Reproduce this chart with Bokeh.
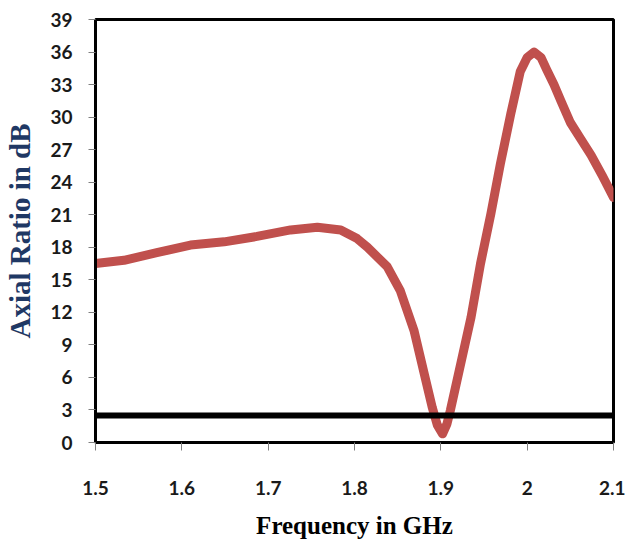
from bokeh.plotting import figure
from bokeh.models import FixedTicker, Span, Range1d
from bokeh.embed import file_html
from bokeh.resources import INLINE

# Data
freq_ghz = [1.500, 1.533, 1.571, 1.610, 1.649, 1.687, 1.726, 1.757, 1.784, 1.803,
            1.815, 1.838, 1.853, 1.869, 1.880, 1.890, 1.896, 1.902, 1.907, 1.911,
            1.923, 1.935, 1.946, 1.958, 1.969, 1.981, 1.992, 2.000, 2.008, 2.016,
            2.023, 2.031, 2.039, 2.050, 2.062, 2.074, 2.087, 2.100]
axial_ratio_db = [16.5, 16.8, 17.5, 18.2, 18.5, 19.0, 19.6, 19.85, 19.6, 18.8,
                  18.0, 16.2, 14.0, 10.3, 6.6, 3.25, 1.6, 0.8, 1.7, 2.95,
                  7.25, 11.55, 16.5, 21.1, 25.7, 30.3, 34.2, 35.5, 36.0, 35.5,
                  34.3, 33.0, 31.5, 29.5, 28.0, 26.5, 24.6, 22.6]
threshold_db = 2.5

x_ticks = [1.5, 1.6, 1.7, 1.8, 1.9, 2.0, 2.1]
x_tick_labels = ["1.5", "1.6", "1.7", "1.8", "1.9", "2", "2.1"]
y_ticks = [0, 3, 6, 9, 12, 15, 18, 21, 24, 27, 30, 33, 36, 39]

x_title = "Frequency in GHz"
y_title = "Axial Ratio in dB"

p = figure(width=625, height=545, output_backend="svg", toolbar_location=None,
           x_range=Range1d(1.5, 2.1), y_range=Range1d(0, 39),
           min_border_left=95, min_border_right=12, min_border_top=19,
           min_border_bottom=103)

p.background_fill_color = "white"
p.border_fill_color = "white"
p.outline_line_color = "black"
p.outline_line_width = 3
p.xgrid.visible = False
p.ygrid.visible = False

p.line(freq_ghz, axial_ratio_db, line_color="#C0504D", line_width=9,
       line_join="round", line_cap="round")

p.add_layout(Span(location=threshold_db, dimension="width",
                  line_color="black", line_width=6))

for ax in (p.xaxis[0], p.yaxis[0]):
    ax.axis_line_color = "black"
    ax.axis_line_width = 3
    ax.major_tick_in = 0
    ax.major_tick_line_color = "#808080"
    ax.major_tick_line_width = 1
    ax.minor_tick_line_color = None
    ax.major_label_text_font = "Lato"
    ax.major_label_text_font_style = "bold"
    ax.major_label_text_font_size = "19px"
    ax.major_label_text_color = "#1a1a1a"
    ax.axis_label_text_font = "Liberation Serif"
    ax.axis_label_text_font_style = "bold"

p.xaxis[0].ticker = FixedTicker(ticks=x_ticks)
p.xaxis[0].major_label_overrides = {t: l for t, l in zip(x_ticks, x_tick_labels)}
p.xaxis[0].major_tick_out = 8
p.xaxis[0].major_label_standoff = 30
p.xaxis[0].axis_label = x_title
p.xaxis[0].axis_label_text_font_size = "25px"
p.xaxis[0].axis_label_text_color = "black"
p.xaxis[0].axis_label_standoff = 14

p.yaxis[0].ticker = FixedTicker(ticks=y_ticks)
p.yaxis[0].major_tick_out = 7
p.yaxis[0].major_label_standoff = 16
p.yaxis[0].axis_label = y_title
p.yaxis[0].axis_label_text_font_size = "29px"
p.yaxis[0].axis_label_text_color = "#1F3864"
p.yaxis[0].axis_label_standoff = 11

open("out.html", "w").write(file_html(p, INLINE))
